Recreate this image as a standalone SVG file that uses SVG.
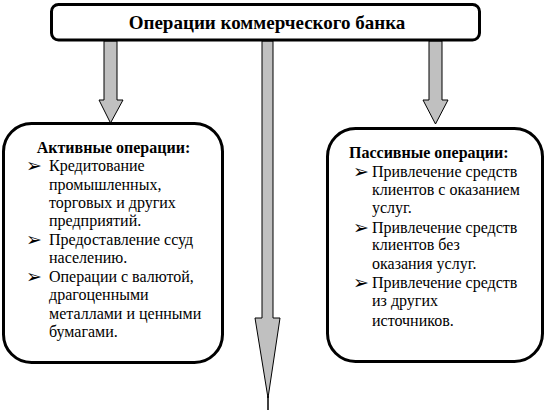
<svg xmlns="http://www.w3.org/2000/svg" width="548" height="415" viewBox="0 0 548 415">
<style>
.box{fill:#fff;stroke:#000;stroke-width:3}
.arr{fill:#c0c0c0;stroke:#000;stroke-width:1}
text{font-family:'Liberation Serif','DejaVu Serif',serif;fill:#000}
.t{font-size:16px}
.b{font-weight:bold}
.h{font-size:19px;font-weight:bold}
.bul{font-family:'DejaVu Sans',sans-serif;font-size:19px}
</style>
<rect width="548" height="415" fill="#fff"/>
<g id="connectors">
<polygon class="arr" points="104,41 117,41 117,100 123,100 110.5,123 99,100 104,100"/>
<polygon class="arr" points="429,41 442,41 442,100 448,100 435.5,124 423,100 429,100"/>
<polygon class="arr" points="262,41 273,41 273,318 280,318 268,398 255,318 262,318"/>
<line x1="268" y1="396" x2="268" y2="410" stroke="#000" stroke-width="1.5"/>
</g>
<g id="top">
<rect class="box" x="51.5" y="4.5" width="428" height="35.5" rx="7"/>
<text class="h" x="267" y="29" text-anchor="middle">Операции коммерческого банка</text>
</g>
<g id="active">
<rect class="box" x="3.5" y="123.5" width="219" height="239" rx="28"/>
<text class="t b" x="113.5" y="153" text-anchor="middle">Активные операции:</text>
<text class="bul" x="26" y="172">➢</text>
<text class="bul" x="26" y="246">➢</text>
<text class="bul" x="26" y="283">➢</text>
<text class="t" x="49" y="171">Кредитование</text>
<text class="t" x="49" y="190">промышленных,</text>
<text class="t" x="49" y="208">торговых и других</text>
<text class="t" x="49" y="226">предприятий.</text>
<text class="t" x="49" y="245">Предоставление ссуд</text>
<text class="t" x="49" y="263">населению.</text>
<text class="t" x="49" y="282">Операции с валютой,</text>
<text class="t" x="49" y="300">драгоценными</text>
<text class="t" x="49" y="319">металлами и ценными</text>
<text class="t" x="49" y="337">бумагами.</text>
</g>
<g id="passive">
<rect class="box" x="327.5" y="128.5" width="215" height="233" rx="28"/>
<text class="t b" x="349" y="158">Пассивные операции:</text>
<text class="bul" x="353" y="178">➢</text>
<text class="bul" x="353" y="234">➢</text>
<text class="bul" x="353" y="289">➢</text>
<text class="t" x="372" y="177">Привлечение средств</text>
<text class="t" x="372" y="195">клиентов с оказанием</text>
<text class="t" x="372" y="213">услуг.</text>
<text class="t" x="372" y="233">Привлечение средств</text>
<text class="t" x="372" y="250">клиентов без</text>
<text class="t" x="372" y="269">оказания услуг.</text>
<text class="t" x="372" y="288">Привлечение средств</text>
<text class="t" x="372" y="306">из других</text>
<text class="t" x="372" y="326">источников.</text>
</g>
</svg>
